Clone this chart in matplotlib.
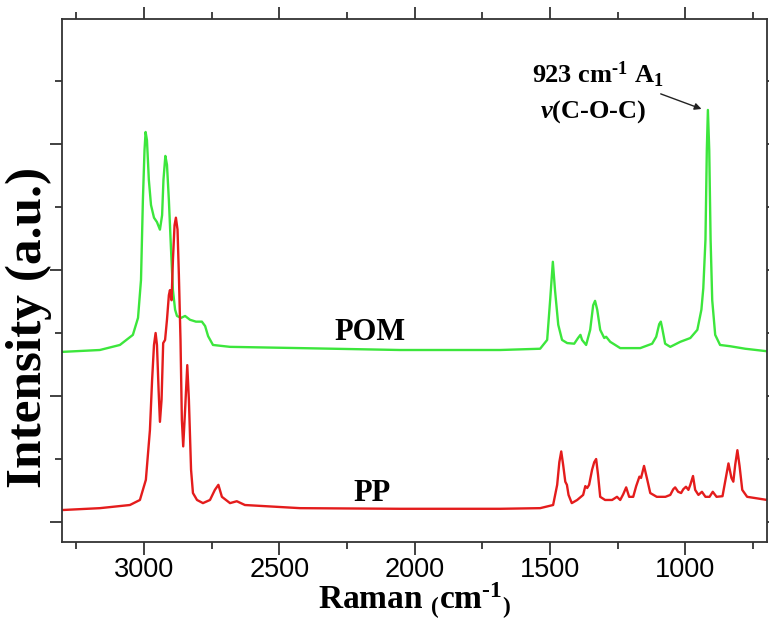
import numpy as np
import matplotlib
matplotlib.use('Agg')
import matplotlib.pyplot as plt

# POM spectrum (wavenumber, intensity a.u.)
pom_w = [3303, 3163, 3089, 3041, 3022, 3011, 3004, 2998, 2994, 2989, 2982, 2974,
         2963, 2952, 2941, 2933, 2928, 2921, 2915, 2908, 2900, 2893, 2885, 2878,
         2863, 2848, 2830, 2808, 2786, 2774, 2763, 2745, 2682, 2423, 2054, 1684,
         1536, 1510, 1499, 1489, 1481, 1469, 1455, 1436, 1410, 1396, 1387, 1381,
         1366, 1351, 1340, 1333, 1325, 1314, 1299, 1292, 1277, 1240, 1166, 1122,
         1107, 1096, 1090, 1085, 1074, 1055, 1018, 981, 955, 940, 933, 925, 920,
         916, 911, 906, 900, 889, 871, 834, 778, 697]
pom_i = [2.70, 2.73, 2.81, 2.97, 3.24, 3.84, 5.11, 5.90, 6.19, 6.06, 5.43, 5.03,
         4.83, 4.76, 4.64, 4.87, 5.43, 5.81, 5.67, 5.11, 4.32, 3.68, 3.37, 3.27,
         3.24, 3.27, 3.21, 3.18, 3.18, 3.11, 2.95, 2.81, 2.78, 2.76, 2.73, 2.73,
         2.75, 2.89, 3.52, 4.13, 3.68, 3.13, 2.89, 2.84, 2.83, 2.92, 2.97, 2.89,
         2.81, 3.05, 3.44, 3.51, 3.37, 3.05, 2.92, 2.94, 2.86, 2.76, 2.76, 2.83,
         2.94, 3.14, 3.18, 3.08, 2.83, 2.78, 2.86, 2.92, 3.05, 3.37, 3.71, 4.48, 5.90,
         6.54, 5.90, 4.48, 3.52, 2.97, 2.81, 2.79, 2.75, 2.71]

# PP spectrum
pp_w = [3303, 3163, 3052, 3015, 2993, 2978, 2970, 2963, 2957, 2952, 2946, 2941,
        2935, 2929, 2922, 2915, 2908, 2904, 2898, 2893, 2887, 2882, 2876, 2871,
        2865, 2860, 2855, 2848, 2840, 2834, 2826, 2819, 2804, 2782, 2756, 2738,
        2725, 2712, 2682, 2657, 2627, 2423, 2054, 1684, 1536, 1488, 1473, 1465,
        1458, 1451, 1443, 1437, 1431, 1419, 1399, 1377, 1369, 1362, 1355, 1344,
        1336, 1329, 1322, 1314, 1296, 1270, 1252, 1240, 1229, 1218, 1207, 1192,
        1181, 1169, 1163, 1152, 1140, 1129, 1105, 1073, 1055, 1044, 1037, 1026,
        1015, 1007, 997, 988, 981, 971, 963, 951, 938, 925, 910, 898, 884, 862,
        851, 840, 829, 822, 815, 807, 799, 789, 771, 741, 697]
pp_i = [0.19, 0.22, 0.27, 0.35, 0.67, 1.46, 2.25, 2.81, 3.00, 2.81, 2.10, 1.59,
        1.94, 2.84, 2.89, 3.21, 3.60, 3.68, 3.52, 4.16, 4.71, 4.83, 4.64, 3.92,
        2.89, 1.62, 1.20, 1.78, 2.49, 1.94, 0.83, 0.46, 0.35, 0.30, 0.35, 0.51,
        0.59, 0.40, 0.30, 0.33, 0.27, 0.22, 0.21, 0.21, 0.22, 0.27, 0.59, 0.95,
        1.12, 0.91, 0.64, 0.59, 0.43, 0.30, 0.35, 0.43, 0.57, 0.54, 0.59, 0.83,
        0.95, 1.00, 0.75, 0.40, 0.35, 0.35, 0.40, 0.35, 0.44, 0.55, 0.40, 0.40,
        0.57, 0.72, 0.70, 0.89, 0.67, 0.46, 0.40, 0.40, 0.43, 0.52, 0.55, 0.48,
        0.46, 0.52, 0.56, 0.51, 0.59, 0.73, 0.51, 0.43, 0.48, 0.40, 0.40, 0.48, 0.40, 0.41,
        0.67, 0.93, 0.70, 0.64, 0.91, 1.14, 0.89, 0.51, 0.40, 0.38, 0.35]

plt.rcParams['font.family'] = 'Liberation Serif'
plt.rcParams['font.weight'] = 'bold'
plt.rcParams['axes.labelweight'] = 'bold'
plt.rcParams['mathtext.fontset'] = 'custom'
plt.rcParams['mathtext.rm'] = 'Liberation Serif:bold'
plt.rcParams['mathtext.it'] = 'Liberation Serif:italic:bold'
plt.rcParams['mathtext.bf'] = 'Liberation Serif:bold'

fig = plt.figure(figsize=(7.69, 6.19), dpi=100)
ax = fig.add_axes([0.0806, 0.1244, 0.917, 0.845])

ax.plot(pom_w, pom_i, color='#3ce63c', lw=1.7)
ax.plot(pp_w, pp_i, color='#e41c1c', lw=1.7)

ax.set_xlim(3303, 697)
ax.set_ylim(-0.317, 7.984)

ax.set_xticks([3000, 2500, 2000, 1500, 1000])
ax.set_xticks(np.arange(750, 3300, 500), minor=True)
ax.set_yticks([0, 2, 4, 6])
ax.set_yticks([1, 3, 5, 7], minor=True)
ax.set_yticklabels([])
ax.tick_params(axis='both', which='major', direction='out', length=9, width=1.3,
               top=True, right=True, color='#333333')
ax.tick_params(axis='both', which='minor', direction='out', length=5, width=1.3,
               top=True, right=True, color='#333333')
ax.tick_params(axis='x', labelsize=19.5, pad=1.5)
for lab in ax.get_xticklabels():
    lab.set_fontfamily('Liberation Sans')
    lab.set_fontweight('normal')
for sp in ax.spines.values():
    sp.set_linewidth(1.3)
    sp.set_color('#333333')

ax.set_xlabel(r'Raman $\mathregular{_(}$cm$^{\text{-1}}$$\mathregular{_)}$', fontsize=24, va='center')
ax.xaxis.set_label_coords(0.5, -0.111)
ax.set_ylabel('Intensity (a.u.)', fontsize=37, va='center')
ax.yaxis.set_label_coords(-0.047, 0.411)

ax.text(2164, 3.0, 'POM', fontsize=22, ha='center', va='center')
ax.text(2158, 0.46, 'PP', fontsize=22, ha='center', va='center')
ax.text(1322, 7.1, r'923 cm$^{\text{-1}}$ A$_{\mathregular{1}}$', fontsize=19, ha='center', va='center')
ax.text(1340, 6.51, r'$\nu$(C-O-C)', fontsize=19, ha='center', va='center')
ax.annotate('', xy=(930, 6.54), xytext=(1100, 6.81),
            arrowprops=dict(arrowstyle='-|>', color='#222222', lw=1.0, mutation_scale=10))

fig.savefig('out.png', dpi=100)
